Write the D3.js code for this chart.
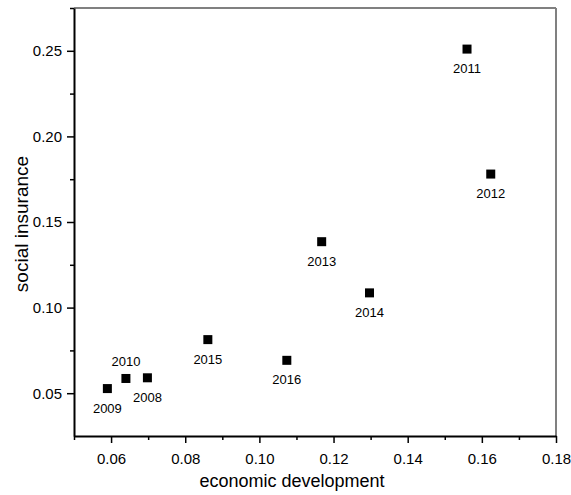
<!DOCTYPE html>
<html>
<head>
<meta charset="utf-8">
<script src="https://cdn.jsdelivr.net/npm/d3@7"></script>
<style>
    body { margin: 0; background: #fff; }
    svg text { font-family: Arial, "Liberation Sans", sans-serif; fill: #000; }
</style>
</head>
<body>
<svg id="chart"></svg>
<script>
// data
const years = ['2008', '2009', '2010', '2011', '2012', '2013', '2014', '2015', '2016'];
const economicDevelopment = [0.0698, 0.0590, 0.0640, 0.1560, 0.1624, 0.1168, 0.1297, 0.0861, 0.1074];
const socialInsurance = [0.0590, 0.0527, 0.0586, 0.2510, 0.1780, 0.1385, 0.1086, 0.0813, 0.0692];
const labelSide = ['below', 'below', 'above', 'below', 'below', 'below', 'below', 'below', 'below'];

const xTicks = [0.06, 0.08, 0.10, 0.12, 0.14, 0.16, 0.18];
const xMinorTicks = [0.05, 0.07, 0.09, 0.11, 0.13, 0.15, 0.17];
const yTicks = [0.05, 0.10, 0.15, 0.20, 0.25];
const yMinorTicks = [0.075, 0.125, 0.175, 0.225, 0.275];

const config = {
    width: 571,
    height: 495,
    margin: { top: 8, right: 15, bottom: 59, left: 74 }
};

const innerW = config.width - config.margin.left - config.margin.right;
const innerH = config.height - config.margin.top - config.margin.bottom;

const svg = d3.select('#chart')
    .attr('width', config.width)
    .attr('height', config.height);

const chart = svg.append('g')
    .attr('transform', `translate(${config.margin.left},${config.margin.top})`);

const x = d3.scaleLinear().domain([0.05, 0.18]).range([0, innerW]);
const y = d3.scaleLinear().domain([0.025, 0.275]).range([innerH, 0]);

// top and right frame
chart.append('line')
    .attr('x1', 0).attr('x2', innerW).attr('y1', 0).attr('y2', 0)
    .attr('stroke', '#808080').attr('stroke-width', 2);
chart.append('line')
    .attr('x1', innerW).attr('x2', innerW).attr('y1', 0).attr('y2', innerH)
    .attr('stroke', '#808080').attr('stroke-width', 2);

// minor ticks
chart.append('g')
    .attr('transform', `translate(0,${innerH})`)
    .call(d3.axisBottom(x).tickValues(xMinorTicks).tickSize(4).tickFormat(''))
    .call(g => g.select('.domain').remove())
    .call(g => g.selectAll('.tick line').attr('stroke-width', 1.5));
chart.append('g')
    .call(d3.axisLeft(y).tickValues(yMinorTicks).tickSize(4).tickFormat(''))
    .call(g => g.select('.domain').remove())
    .call(g => g.selectAll('.tick line').attr('stroke-width', 1.5));

// major axes
const xAxis = chart.append('g')
    .attr('transform', `translate(0,${innerH})`)
    .call(d3.axisBottom(x).tickValues(xTicks).tickSize(7).tickSizeOuter(0)
        .tickPadding(10).tickFormat(d3.format('.2f')));
const yAxis = chart.append('g')
    .call(d3.axisLeft(y).tickValues(yTicks).tickSize(7).tickSizeOuter(0)
        .tickPadding(5).tickFormat(d3.format('.2f')));

[xAxis, yAxis].forEach(a => {
    a.select('.domain').attr('stroke-width', 2);
    a.selectAll('.tick line').attr('stroke-width', 1.5);
    a.selectAll('.tick text').style('font-size', '15px');
});

// axis titles
svg.append('text')
    .attr('x', 292)
    .attr('y', 487)
    .attr('text-anchor', 'middle')
    .style('font-size', '18px')
    .text('economic development');

svg.append('text')
    .attr('transform', 'translate(28,224) rotate(-90)')
    .attr('text-anchor', 'middle')
    .style('font-size', '19px')
    .text('social insurance');

// points
const points = years.map((yr, i) => ({
    year: yr,
    ed: economicDevelopment[i],
    si: socialInsurance[i],
    side: labelSide[i]
}));

const size = 9;
chart.selectAll('.point')
    .data(points)
    .join('rect')
    .attr('class', 'point')
    .attr('x', d => x(d.ed) - size / 2)
    .attr('y', d => y(d.si) - size / 2)
    .attr('width', size)
    .attr('height', size)
    .attr('fill', '#000');

chart.selectAll('.year-label')
    .data(points)
    .join('text')
    .attr('class', 'year-label')
    .attr('x', d => x(d.ed))
    .attr('y', d => y(d.si) + (d.side === 'above' ? -12 : 24))
    .attr('text-anchor', 'middle')
    .style('font-size', '13px')
    .text(d => d.year);
</script>
</body>
</html>
